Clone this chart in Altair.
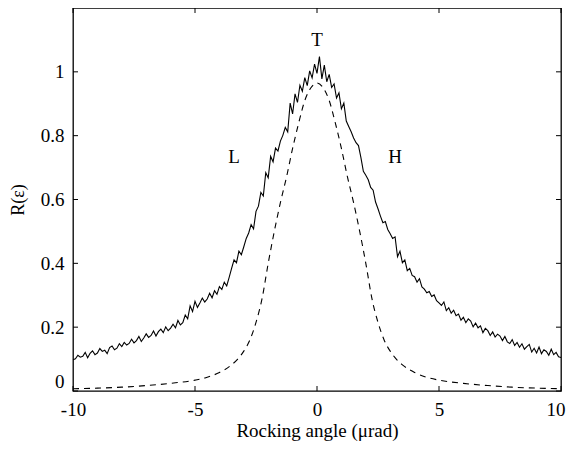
import altair as alt
import pandas as pd

# Measured curve (solid, noisy) sampled every 0.1 µrad from -10 to 10
solid_x = [round(-10 + 0.1 * i, 1) for i in range(201)]
solid_y = [
    0.098, 0.101, 0.112, 0.106, 0.109, 0.121, 0.104, 0.118, 0.126, 0.114,
    0.119, 0.133, 0.124, 0.128, 0.117, 0.136, 0.141, 0.129, 0.134, 0.148,
    0.139, 0.152, 0.144, 0.149, 0.162, 0.151, 0.158, 0.171, 0.155, 0.166,
    0.179, 0.168, 0.174, 0.188, 0.172, 0.186, 0.194, 0.183, 0.201, 0.189,
    0.197, 0.209, 0.198, 0.221, 0.207, 0.214, 0.238, 0.226, 0.267, 0.249,
    0.281, 0.262, 0.276, 0.291, 0.279, 0.288, 0.306, 0.292, 0.314, 0.303,
    0.327, 0.318, 0.341, 0.329, 0.356,
    0.384, 0.411, 0.402, 0.438, 0.427,
    0.452, 0.478, 0.495, 0.521, 0.508, 0.563, 0.579, 0.622, 0.611, 0.684,
    0.668, 0.735, 0.718, 0.761, 0.752, 0.783, 0.801, 0.826, 0.812, 0.902,
    0.868, 0.931, 0.904, 0.958, 0.939, 0.982, 0.957, 1.003, 0.981, 1.024,
    0.995,
    1.048, 0.978, 1.021, 0.969, 0.992, 0.951, 0.962, 0.918, 0.934, 0.884,
    0.902, 0.846, 0.829, 0.812, 0.793, 0.778, 0.769, 0.731, 0.688, 0.676,
    0.662, 0.638, 0.629, 0.592, 0.571, 0.548, 0.527, 0.531, 0.506, 0.493,
    0.478, 0.483, 0.421, 0.438, 0.402, 0.411, 0.377, 0.384, 0.362, 0.358,
    0.341, 0.352, 0.326, 0.319, 0.308, 0.312, 0.296, 0.301, 0.283, 0.276,
    0.268, 0.279, 0.252, 0.261, 0.244, 0.253, 0.236, 0.241, 0.222, 0.231,
    0.214, 0.226, 0.219, 0.201, 0.213, 0.198, 0.204, 0.183, 0.196, 0.189,
    0.174, 0.185, 0.169, 0.178, 0.172, 0.158, 0.171, 0.154, 0.149, 0.161,
    0.143, 0.152, 0.137, 0.148, 0.131, 0.139, 0.146, 0.122, 0.134, 0.119,
    0.138, 0.117, 0.129, 0.124, 0.112, 0.131, 0.114, 0.121, 0.107, 0.105,
]

# Theoretical curve (dashed)
dash_x = [-10, -9, -8, -7, -6, -5, -4.5, -4, -3.5, -3.25, -3, -2.75, -2.5, -2.25,
          -2, -1.75, -1.5, -1.25, -1, -0.75, -0.5, -0.25, 0,
          0.25, 0.5, 0.75, 1, 1.25, 1.5, 1.75, 2, 2.25, 2.5, 2.75, 3, 3.25, 3.5,
          4, 4.5, 5, 6, 7, 8, 9, 10]
dash_y = [0.007, 0.009, 0.012, 0.017, 0.024, 0.034, 0.043, 0.058, 0.082, 0.100,
          0.125, 0.160, 0.215, 0.290, 0.400, 0.500, 0.590, 0.670, 0.760, 0.840,
          0.910, 0.950, 0.965,
          0.950, 0.910, 0.840, 0.760, 0.670, 0.590, 0.500, 0.400, 0.290, 0.215,
          0.160, 0.125, 0.100, 0.082, 0.058, 0.043, 0.034, 0.024, 0.017, 0.012,
          0.009, 0.007]

# Annotations
ann_text = ["L", "T", "H"]
ann_x = [-3.4, 0.0, 3.2]
ann_y = [0.733, 1.101, 0.733]

x_ticks = [-10, -5, 0, 5, 10]
y_ticks = [0, 0.2, 0.4, 0.6, 0.8, 1]

W, H = 488, 383
FONT = "Liberation Serif"

solid = pd.DataFrame({"x": solid_x, "y": solid_y})
dashed = pd.DataFrame({"x": dash_x, "y": dash_y})
ann = pd.DataFrame({"label": ann_text, "x": ann_x, "y": ann_y})
xt = pd.DataFrame({"v": x_ticks})
yt = pd.DataFrame({"v": y_ticks})

xscale = alt.Scale(domain=[-10, 10], nice=False, zero=False)
yscale = alt.Scale(domain=[0, 1.2], nice=False, zero=False)

xaxis = alt.Axis(values=x_ticks, labelExpr="'' + datum.value", ticks=False, tickSize=0,
                 domain=False, grid=False, labelPadding=9, titlePadding=2,
                 labelFlush=False,
                 labelAlign={"condition": {"test": "datum.value == 10", "value": "right"},
                             "value": "center"},
                 labelOffset={"condition": {"test": "datum.value == 10", "value": 4},
                              "value": 0},
                 title="Rocking angle (μrad)",
                 labelFont=FONT, titleFont=FONT, labelFontSize=19, titleFontSize=19,
                 labelColor="black", titleColor="black", titleFontWeight="normal")
yaxis = alt.Axis(values=y_ticks, format="~g", ticks=False, tickSize=0, domain=False,
                 grid=False, labelPadding=9, labelFlush=True,
                 title="R(ε)", titleX=-50, titleY=H / 2, titleAngle=-90,
                 titleBaseline="alphabetic", titleAlign="center",
                 labelFont=FONT, titleFont=FONT, labelFontSize=19, titleFontSize=18,
                 labelColor="black", titleColor="black", titleFontWeight="normal")

base_x = alt.X("x:Q", scale=xscale, axis=xaxis)
base_y = alt.Y("y:Q", scale=yscale, axis=yaxis)

solid_line = alt.Chart(solid).mark_line(color="black", strokeWidth=1.1).encode(
    x=base_x, y=base_y)

dash_line = alt.Chart(dashed).mark_line(color="black", strokeWidth=1.1,
                                        strokeDash=[6, 5], interpolate="monotone").encode(
    x=alt.X("x:Q", scale=xscale), y=alt.Y("y:Q", scale=yscale))

labels = alt.Chart(ann).mark_text(font=FONT, fontSize=19, color="black",
                                  baseline="middle", align="center").encode(
    x=alt.X("x:Q", scale=xscale), y=alt.Y("y:Q", scale=yscale), text="label:N")

tick_len = 5
xb = alt.Chart(xt).mark_rule(color="black", strokeWidth=1).encode(
    x=alt.X("v:Q", scale=xscale), y=alt.value(H), y2=alt.value(H - tick_len))
xtop = alt.Chart(xt).mark_rule(color="black", strokeWidth=1).encode(
    x=alt.X("v:Q", scale=xscale), y=alt.value(0), y2=alt.value(tick_len))
yl = alt.Chart(yt).mark_rule(color="black", strokeWidth=1).encode(
    y=alt.Y("v:Q", scale=yscale), x=alt.value(0), x2=alt.value(tick_len))
yr = alt.Chart(yt).mark_rule(color="black", strokeWidth=1).encode(
    y=alt.Y("v:Q", scale=yscale), x=alt.value(W - tick_len), x2=alt.value(W))

chart = alt.layer(solid_line, dash_line, labels, xb, xtop, yl, yr).properties(
    width=W, height=H,
    background="white",
    autosize=alt.AutoSizeParams(type="none"),
    padding={"left": 65, "top": 0, "right": 5, "bottom": 51},
).configure_view(
    stroke="black", strokeWidth=1.3
)

chart.save("out.html", embed_options={"renderer": "svg", "actions": False})
